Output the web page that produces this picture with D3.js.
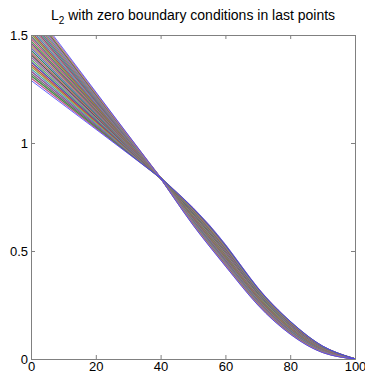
<!DOCTYPE html>
<html>
<head>
<meta charset="utf-8">
<script src="https://cdn.jsdelivr.net/npm/d3@7"></script>
<style>
  body { margin: 0; background: #fff; }
  svg text { font-family: "Liberation Sans", Arial, sans-serif; }
</style>
</head>
<body>
<div id="chart"></div>
<script>
// sample positions along x for every curve
const xKnots = [0, 40, 50, 60, 70, 80, 90, 100];
const crossY = 0.838;   // every curve passes here at x = 40
const endY = 0;         // and ends here at x = 100

// one entry per curve (flattest start first)
const yAt0 = [1.290, 1.301, 1.312, 1.322, 1.333, 1.344, 1.355, 1.365, 1.376, 1.387, 1.398, 1.409, 1.419,
              1.430, 1.441, 1.452, 1.463, 1.473, 1.484, 1.495, 1.506, 1.516, 1.527, 1.538, 1.549, 1.560,
              1.570, 1.581, 1.592, 1.603, 1.613, 1.624, 1.635];
const yAt50 = [0.700, 0.698, 0.695, 0.693, 0.690, 0.688, 0.685, 0.683, 0.680, 0.678, 0.675, 0.673, 0.670,
               0.668, 0.665, 0.663, 0.660, 0.658, 0.655, 0.653, 0.650, 0.648, 0.645, 0.643, 0.640, 0.638,
               0.635, 0.633, 0.630, 0.628, 0.625, 0.623, 0.620];
const yAt60 = [0.530, 0.527, 0.524, 0.521, 0.518, 0.514, 0.511, 0.508, 0.505, 0.502, 0.499, 0.496, 0.493,
               0.489, 0.486, 0.483, 0.480, 0.477, 0.474, 0.471, 0.468, 0.464, 0.461, 0.458, 0.455, 0.452,
               0.449, 0.446, 0.443, 0.439, 0.436, 0.433, 0.430];
const yAt70 = [0.330, 0.328, 0.325, 0.323, 0.320, 0.318, 0.315, 0.313, 0.310, 0.308, 0.305, 0.303, 0.300,
               0.298, 0.295, 0.293, 0.290, 0.288, 0.285, 0.283, 0.280, 0.278, 0.275, 0.273, 0.270, 0.268,
               0.265, 0.263, 0.260, 0.258, 0.255, 0.253, 0.250];
const yAt80 = [0.175, 0.173, 0.171, 0.169, 0.168, 0.166, 0.164, 0.162, 0.160, 0.158, 0.156, 0.154, 0.153,
               0.151, 0.149, 0.147, 0.145, 0.143, 0.141, 0.139, 0.138, 0.136, 0.134, 0.132, 0.130, 0.128,
               0.126, 0.124, 0.123, 0.121, 0.119, 0.117, 0.115];
const yAt90 = [0.060, 0.059, 0.058, 0.057, 0.056, 0.055, 0.054, 0.053, 0.053, 0.052, 0.051, 0.050, 0.049,
               0.048, 0.047, 0.046, 0.045, 0.044, 0.043, 0.042, 0.041, 0.040, 0.039, 0.038, 0.038, 0.037,
               0.036, 0.035, 0.034, 0.033, 0.032, 0.031, 0.030];

const lineColors = ['#3a3aff', '#c05090', '#409040', '#707070', '#9050a0', '#50a0b0', '#a0a040', '#c04040',
                    '#5050b0', '#60b060', '#a070b0', '#505050', '#c07070', '#308060', '#7070c0', '#b09050',
                    '#904090', '#50a050', '#c06080', '#606080', '#80a040', '#b05050', '#5080b0', '#909090',
                    '#a04070', '#40a080', '#8060a0', '#a08060', '#6090a0', '#b060b0', '#608040', '#c08090',
                    '#3a3aff'];

const xTicks = [0, 20, 40, 60, 80, 100];
const yTicks = [0, 0.5, 1, 1.5];

const W = 365, H = 375;
const margin = { top: 35, right: 10, bottom: 16, left: 31 };
const plotW = W - margin.left - margin.right;
const plotH = H - margin.top - margin.bottom;

const svg = d3.select('#chart').append('svg')
    .attr('width', W)
    .attr('height', H);

const x = d3.scaleLinear().domain([0, 100]).range([margin.left, margin.left + plotW]);
const y = d3.scaleLinear().domain([0, 1.5]).range([margin.top + plotH, margin.top]);

svg.append('clipPath').attr('id', 'plotClip')
    .append('rect')
    .attr('x', margin.left).attr('y', margin.top)
    .attr('width', plotW).attr('height', plotH);

// build curves from the knot arrays
const curves = yAt0.map((y0, i) =>
    d3.zip(xKnots, [y0, crossY, yAt50[i], yAt60[i], yAt70[i], yAt80[i], yAt90[i], endY]));

// straight part up to x = 40, smooth part after it
const straight = d3.line().x(d => x(d[0])).y(d => y(d[1]));
const bent = d3.line().x(d => x(d[0])).y(d => y(d[1])).curve(d3.curveNatural);

// blue edge curves go on top
const last = curves.length - 1;
const order = d3.range(1, last).concat([0, last]);

svg.append('g')
    .attr('clip-path', 'url(#plotClip)')
    .selectAll('path')
    .data(order)
    .join('path')
    .attr('d', i => straight(curves[i].slice(0, 2)) + bent(curves[i].slice(1)))
    .attr('fill', 'none')
    .attr('stroke', i => lineColors[i])
    .attr('stroke-width', i => (i === 0 || i === last) ? 0.8 : 1.3);

// axes, MATLAB-like box with inward ticks
const axisColor = '#808080';
const tickLen = 4;

const bottomAxis = svg.append('g')
    .attr('transform', `translate(0,${margin.top + plotH})`)
    .call(d3.axisBottom(x).tickValues(xTicks).tickSize(-tickLen).tickPadding(3).tickFormat(d3.format('d')));
const topAxis = svg.append('g')
    .attr('transform', `translate(0,${margin.top})`)
    .call(d3.axisTop(x).tickValues(xTicks).tickSize(-tickLen).tickFormat(''));
const leftAxis = svg.append('g')
    .attr('transform', `translate(${margin.left},0)`)
    .call(d3.axisLeft(y).tickValues(yTicks).tickSize(-tickLen).tickPadding(3).tickFormat(d => String(d)));
const rightAxis = svg.append('g')
    .attr('transform', `translate(${margin.left + plotW},0)`)
    .call(d3.axisRight(y).tickValues(yTicks).tickSize(-tickLen).tickFormat(''));

[bottomAxis, topAxis, leftAxis, rightAxis].forEach(a => {
    a.select('.domain').attr('stroke', axisColor);
    a.selectAll('.tick line').attr('stroke', axisColor);
    a.selectAll('.tick text')
        .attr('fill', '#000')
        .style('font-size', '13px');
});

// title with subscript
const title = svg.append('text')
    .attr('x', margin.left + plotW / 2)
    .attr('y', 20)
    .attr('text-anchor', 'middle')
    .style('font-size', '14px')
    .attr('fill', '#000');
title.append('tspan').text('L');
title.append('tspan').attr('dy', 4).style('font-size', '10px').text('2');
title.append('tspan').attr('dy', -4).text(' with zero boundary conditions in last points');
</script>
</body>
</html>
